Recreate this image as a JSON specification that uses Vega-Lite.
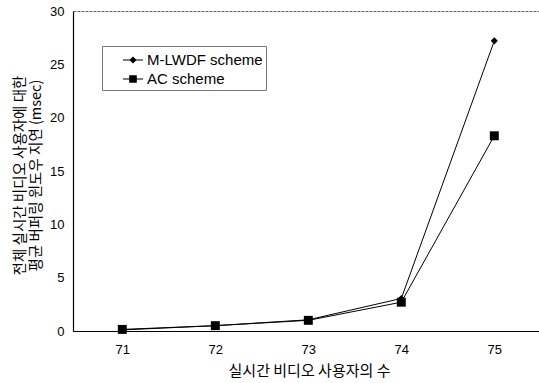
{
  "$schema": "https://vega.github.io/schema/vega-lite/v6.json",
  "width": 472,
  "height": 320,
  "padding": {"top": 5, "left": 12, "right": 0, "bottom": 0},
  "background": "white",
  "config": {
    "view": {"stroke": "#666", "strokeDash": [3, 1], "strokeWidth": 1},
    "font": "Liberation Sans"
  },
  "data": {
    "values": [
      {"users": 71, "delay": 0.1, "scheme": "M-LWDF scheme"},
      {"users": 72, "delay": 0.5, "scheme": "M-LWDF scheme"},
      {"users": 73, "delay": 1.05, "scheme": "M-LWDF scheme"},
      {"users": 74, "delay": 3.05, "scheme": "M-LWDF scheme"},
      {"users": 75, "delay": 27.2, "scheme": "M-LWDF scheme"},
      {"users": 71, "delay": 0.15, "scheme": "AC scheme"},
      {"users": 72, "delay": 0.5, "scheme": "AC scheme"},
      {"users": 73, "delay": 1.0, "scheme": "AC scheme"},
      {"users": 74, "delay": 2.7, "scheme": "AC scheme"},
      {"users": 75, "delay": 18.3, "scheme": "AC scheme"}
    ]
  },
  "encoding": {
    "x": {
      "field": "users", "type": "quantitative",
      "scale": {"domain": [70.47, 75.545], "nice": false, "zero": false},
      "axis": {
        "values": [71, 72, 73, 74, 75], "title": "실시간 비디오 사용자의 수",
        "titleFont": "Noto Sans CJK KR", "titleFontSize": 15, "titleFontWeight": "normal", "titleColor": "#000",
        "titlePadding": 7,
        "labelFontSize": 13, "labelColor": "#000", "labelPadding": 12,
        "ticks": false, "grid": false, "domainColor": "#000", "domainWidth": 1.2
      }
    },
    "y": {
      "field": "delay", "type": "quantitative",
      "scale": {"domain": [0, 30], "nice": false},
      "axis": {
        "values": [0, 5, 10, 15, 20, 25, 30],
        "title": ["전체 실시간 비디오 사용자에 대한", "평균 버퍼링 윈도우 지연 (msec)"],
        "titleFont": "Noto Sans CJK KR", "titleFontSize": 14.5, "titleFontWeight": "normal", "titleColor": "#000",
        "titleLineHeight": 16, "titlePadding": 6, "titleY": 164,
        "labelFontSize": 13, "labelColor": "#000", "labelPadding": 9,
        "ticks": false, "grid": false, "domainColor": "#000", "domainWidth": 1.2
      }
    }
  },
  "layer": [
    {
      "mark": {"type": "line", "color": "#000", "strokeWidth": 1},
      "encoding": {"detail": {"field": "scheme"}}
    },
    {
      "mark": {"type": "point", "filled": true, "color": "#000", "opacity": 1},
      "encoding": {
        "shape": {
          "field": "scheme", "type": "nominal",
          "scale": {"domain": ["M-LWDF scheme", "AC scheme"], "range": ["diamond", "square"]},
          "legend": null
        },
        "size": {
          "field": "scheme", "type": "nominal",
          "scale": {"domain": ["M-LWDF scheme", "AC scheme"], "range": [50, 80]},
          "legend": null
        }
      }
    },
    {
      "transform": [{"filter": "false"}],
      "mark": {"type": "point", "filled": true, "color": "#000", "opacity": 1},
      "encoding": {
        "shape": {
          "field": "scheme", "type": "nominal",
          "scale": {
            "domain": ["M-LWDF scheme", "AC scheme"],
            "range": [
              "M-1,-0.05L1,-0.05L1,0.05L-1,0.05ZM-0.36,0L0,-0.36L0.36,0L0,0.36Z",
              "M-1,-0.05L1,-0.05L1,0.05L-1,0.05ZM-0.38,-0.38L0.38,-0.38L0.38,0.38L-0.38,0.38Z"
            ]
          },
          "legend": {
            "orient": "none", "legendX": 29, "legendY": 35,
            "title": null, "direction": "vertical",
            "labelFont": "Liberation Sans", "labelFontSize": 15, "labelColor": "#000",
            "symbolSize": 400, "symbolFillColor": "#000",
            "symbolOpacity": 1, "symbolOffset": 17,
            "rowPadding": 0, "labelOffset": 3, "labelLimit": 300,
            "strokeColor": "#777", "fillColor": "white",
            "padding": 3, "offset": 0,
            "encode": {
              "legend": {"update": {"strokeDash": {"value": [4, 2]}}}
            }
          }
        }
      }
    }
  ],
  "resolve": {"scale": {"shape": "independent"}}
}
